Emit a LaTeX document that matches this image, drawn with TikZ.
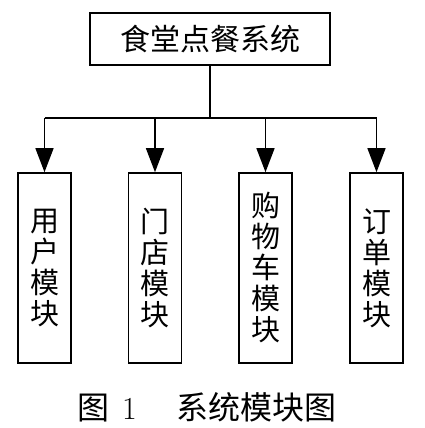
\documentclass[tikz,border=0pt]{standalone}
\usepackage{fontspec}
\newfontfamily\cjk{Noto Sans CJK SC}
\usetikzlibrary{arrows.meta}
\begin{document}
\begin{tikzpicture}[x=1pt,y=-1pt,
  modbox/.style={draw,line width=1.6pt,minimum width=53pt,minimum height=190pt,inner sep=0pt,
    align=center,font=\cjk\fontsize{29}{31}\selectfont},
  topbox/.style={draw,line width=1.6pt,minimum width=240pt,minimum height=52pt,inner sep=0pt,
    font=\cjk\fontsize{30}{31}\selectfont},
  conn/.style={line width=1.4pt},
  arr/.style={conn,-{Triangle[length=24pt,width=18pt]}}]
\useasboundingbox (0,0) rectangle (425,428);
\node[topbox] (top) at (210,39) {食堂点餐系统};
\node[modbox] (m1) at (44.5,268) {用\\户\\模\\块};
\node[modbox] (m2) at (155,268) {门\\店\\模\\块};
\node[modbox] (m3) at (265.5,268) {购\\物\\车\\模\\块};
\node[modbox] (m4) at (376.5,268) {订\\单\\模\\块};
\coordinate (j) at (210,118);
\draw[conn] (top.south) -- (j);
\draw[conn] (m1.north |- j) -- (m4.north |- j);
\draw[arr] (m1.north |- j) -- (m1.north);
\draw[arr] (m2.north |- j) -- (m2.north);
\draw[arr] (m3.north |- j) -- (m3.north);
\draw[arr] (m4.north |- j) -- (m4.north);
\node[anchor=west,inner sep=0pt,font=\fontsize{32}{34}\selectfont] (cap) at (77,407)
  {{\cjk 图}\hspace{13pt}1\hspace{40pt}{\cjk 系统模块图}};
\end{tikzpicture}
\end{document}
